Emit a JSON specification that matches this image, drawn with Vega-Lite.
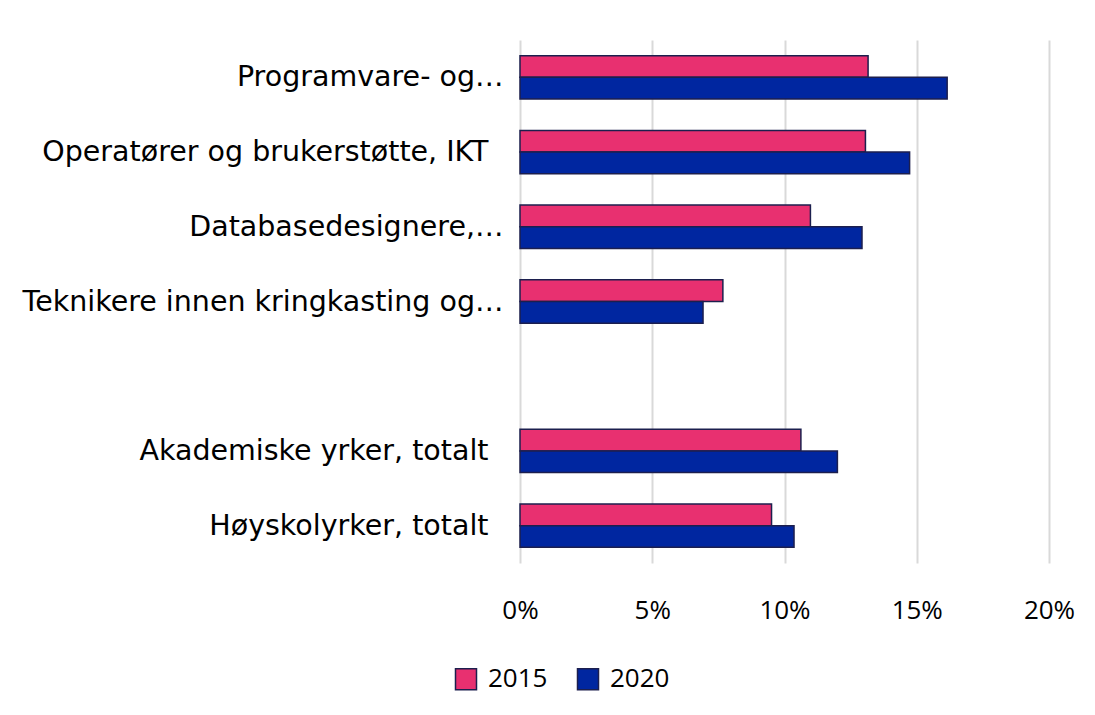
{
  "$schema": "https://vega.github.io/schema/vega-lite/v6.json",
  "autosize": "none",
  "width": 529,
  "height": 523,
  "padding": {"left": 520, "top": 40, "right": 46, "bottom": 152},
  "background": "white",
  "config": {
    "view": {"stroke": null},
    "font": "Open Sans",
    "axis": {"labelFont": "Open Sans", "labelColor": "#000000"},
    "legend": {"labelFont": "Open Sans", "labelColor": "#000000"}
  },
  "data": {
    "values": [
      {"kategori": "Programvare- og…", "år": "2015", "andel": 0.1316},
      {"kategori": "Programvare- og…", "år": "2020", "andel": 0.1615},
      {"kategori": "Operatører og brukerstøtte, IKT", "år": "2015", "andel": 0.1306},
      {"kategori": "Operatører og brukerstøtte, IKT", "år": "2020", "andel": 0.1473},
      {"kategori": "Databasedesignere,…", "år": "2015", "andel": 0.1098},
      {"kategori": "Databasedesignere,…", "år": "2020", "andel": 0.1293},
      {"kategori": "Teknikere innen kringkasting og…", "år": "2015", "andel": 0.0767},
      {"kategori": "Teknikere innen kringkasting og…", "år": "2020", "andel": 0.0692},
      {"kategori": "Akademiske yrker, totalt", "år": "2015", "andel": 0.1062},
      {"kategori": "Akademiske yrker, totalt", "år": "2020", "andel": 0.12},
      {"kategori": "Høyskolyrker, totalt", "år": "2015", "andel": 0.0951},
      {"kategori": "Høyskolyrker, totalt", "år": "2020", "andel": 0.1036}
    ]
  },
  "mark": {"type": "bar", "stroke": "#1c1f4e", "strokeWidth": 1.5},
  "encoding": {
    "y": {
      "field": "kategori",
      "type": "nominal",
      "scale": {
        "domain": [
          "Programvare- og…",
          "Operatører og brukerstøtte, IKT",
          "Databasedesignere,…",
          "Teknikere innen kringkasting og…",
          " ",
          "Akademiske yrker, totalt",
          "Høyskolyrker, totalt"
        ],
        "paddingInner": 0.42,
        "paddingOuter": 0.21
      },
      "axis": {
        "title": null,
        "ticks": false,
        "domain": false,
        "labelFont": "DejaVu Sans",
        "labelFontSize": 28.5,
        "labelPadding": {
          "condition": {
            "test": "indexof(datum.value, 'IKT') >= 0 || indexof(datum.value, 'totalt') >= 0",
            "value": 32
          },
          "value": 17
        },
        "labelLimit": 700
      }
    },
    "yOffset": {"field": "år", "type": "nominal", "scale": {"paddingInner": 0}},
    "x": {
      "field": "andel",
      "type": "quantitative",
      "scale": {"domain": [0, 0.2], "nice": false},
      "axis": {
        "title": null,
        "values": [0, 0.05, 0.1, 0.15, 0.2],
        "format": ".0%",
        "ticks": false,
        "domain": false,
        "grid": true,
        "gridColor": "#d9d9d9",
        "gridWidth": 2,
        "labelFlush": false,
        "labelFontSize": 26,
        "labelPadding": 34
      }
    },
    "color": {
      "field": "år",
      "type": "nominal",
      "scale": {"domain": ["2015", "2020"], "range": ["#e83070", "#0026a0"]},
      "legend": {
        "title": null,
        "orient": "none",
        "direction": "horizontal",
        "legendX": -67,
        "legendY": 626,
        "symbolType": "square",
        "symbolSize": 441,
        "symbolStrokeColor": "#1c1f4e",
        "symbolStrokeWidth": 1.5,
        "labelFontSize": 26,
        "columnPadding": 26,
        "labelOffset": 9
      }
    }
  }
}
